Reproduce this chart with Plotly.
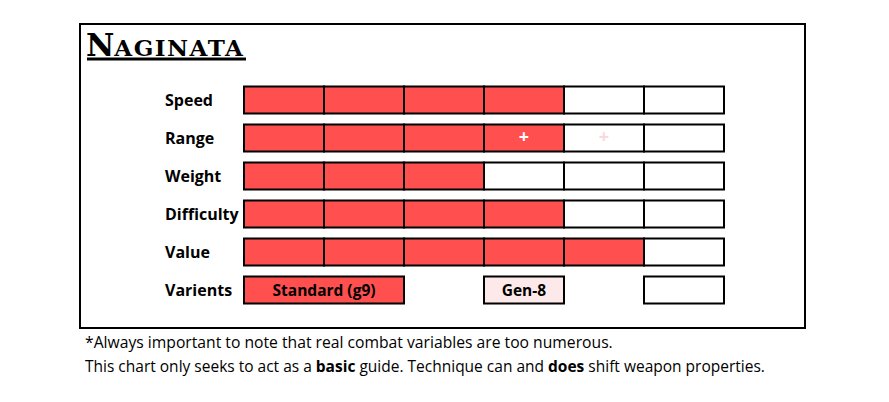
import plotly.graph_objects as go

# ---- data ----
title_initial = "N"
title_rest = "AGINATA"
categories = ["Speed", "Range", "Weight", "Difficulty", "Value"]
filled = [4, 4, 3, 4, 5]
total_cells = 6
range_plus_cells = [4, 5]          # 1-based cells in the Range row carrying a "+"
range_plus_colors = ["#FFFFFF", "#F8D9DE"]
variant_label = "Varients"
variants = ["Standard (g9)", "Gen-8", ""]
variant_start = [0, 3, 5]
variant_span = [2, 1, 1]
variant_colors = ["#FF4F4F", "#FDE9E9", "#FFFFFF"]
notes_line1 = "*Always important to note that real combat variables are too numerous."
notes_line2 = "This chart only seeks to act as a <b>basic</b> guide. Technique can and <b>does</b> shift weapon properties."

RED = "#FF4F4F"
W, H = 889, 402
# pixel mapping: cell 0 starts at x=244px, 80px per cell; row 0 centred at y=100px, 38px per row
X0, XS = 244, 80
Y0, YS = 100, 38
xr = [(0 - X0) / XS, (W - X0) / XS]
yr = [(H - Y0) / YS, (0 - Y0) / YS]
bw = 27 / YS

fig = go.Figure()

red_y, red_base = [], []
wh_y, wh_base = [], []
for i, n in enumerate(filled):
    for j in range(total_cells):
        if j < n:
            red_y.append(i); red_base.append(j)
        else:
            wh_y.append(i); wh_base.append(j)

line = dict(color="black", width=2)
fig.add_trace(go.Bar(orientation="h", y=red_y, x=[1] * len(red_y), base=red_base,
                     width=bw, marker=dict(color=RED, line=line), hoverinfo="skip"))
fig.add_trace(go.Bar(orientation="h", y=wh_y, x=[1] * len(wh_y), base=wh_base,
                     width=bw, marker=dict(color="white", line=line), hoverinfo="skip"))

vrow = len(categories)
fig.add_trace(go.Bar(orientation="h", y=[vrow] * len(variants), x=variant_span, base=variant_start,
                     width=bw, marker=dict(color=variant_colors, line=line),
                     text=["<b>%s</b>" % v if v else "" for v in variants],
                     textposition="inside", insidetextanchor="middle", textangle=0,
                     constraintext="none",
                     insidetextfont=dict(family="Open Sans", size=15.5, color="black"),
                     hoverinfo="skip"))

# "+" marks in the Range row
ri = categories.index("Range")
fig.add_trace(go.Scatter(x=[c - 0.5 for c in range_plus_cells], y=[ri] * len(range_plus_cells),
                         mode="text", text=["<b>+</b>"] * len(range_plus_cells),
                         textfont=dict(family="Open Sans", size=18, color=range_plus_colors),
                         hoverinfo="skip"))

# row labels
for i, c in enumerate(categories + [variant_label]):
    fig.add_annotation(x=-1.0, y=i, xref="x", yref="y", text="<b>%s</b>" % c,
                       showarrow=False, xanchor="left", yanchor="middle", xshift=-1,
                       font=dict(family="Open Sans", size=16, color="black"))

# title (small caps built by hand)
title_html = ("<b><span style='font-size:31px'>%s</span>"
              "<span style='font-size:23px;letter-spacing:1.5px'>%s</span></b>") % (title_initial, title_rest)
fig.add_annotation(x=84 / W, y=1 - 45 / H, xref="paper", yref="paper",
                   text=title_html, showarrow=False, xanchor="left", yanchor="middle",
                   font=dict(family="DejaVu Serif", size=31, color="black"))
fig.add_shape(type="line", xref="paper", yref="paper", x0=87 / W, x1=246 / W,
              y0=1 - 59 / H, y1=1 - 59 / H, line=dict(color="black", width=3))

# outer frame
fig.add_shape(type="rect", xref="paper", yref="paper", x0=80 / W, x1=805 / W,
              y0=1 - 328 / H, y1=1 - 24 / H, line=dict(color="black", width=2))

# notes
fig.add_annotation(x=83 / W, y=1 - 342 / H, xref="paper", yref="paper", text=notes_line1,
                   showarrow=False, xanchor="left", yanchor="middle",
                   font=dict(family="Open Sans", size=15.7, color="black"))
fig.add_annotation(x=83 / W, y=1 - 366 / H, xref="paper", yref="paper", text=notes_line2,
                   showarrow=False, xanchor="left", yanchor="middle",
                   font=dict(family="Open Sans", size=15.5, color="black"))

fig.update_layout(width=W, height=H, margin=dict(l=0, r=0, t=0, b=0),
                  paper_bgcolor="white", plot_bgcolor="white", showlegend=False,
                  barmode="overlay",
                  xaxis=dict(range=xr, visible=False, fixedrange=True),
                  yaxis=dict(range=yr, visible=False, fixedrange=True))

fig.write_html("out.html", config={"displayModeBar": False},
               post_script="document.body.style.margin='0px';")
